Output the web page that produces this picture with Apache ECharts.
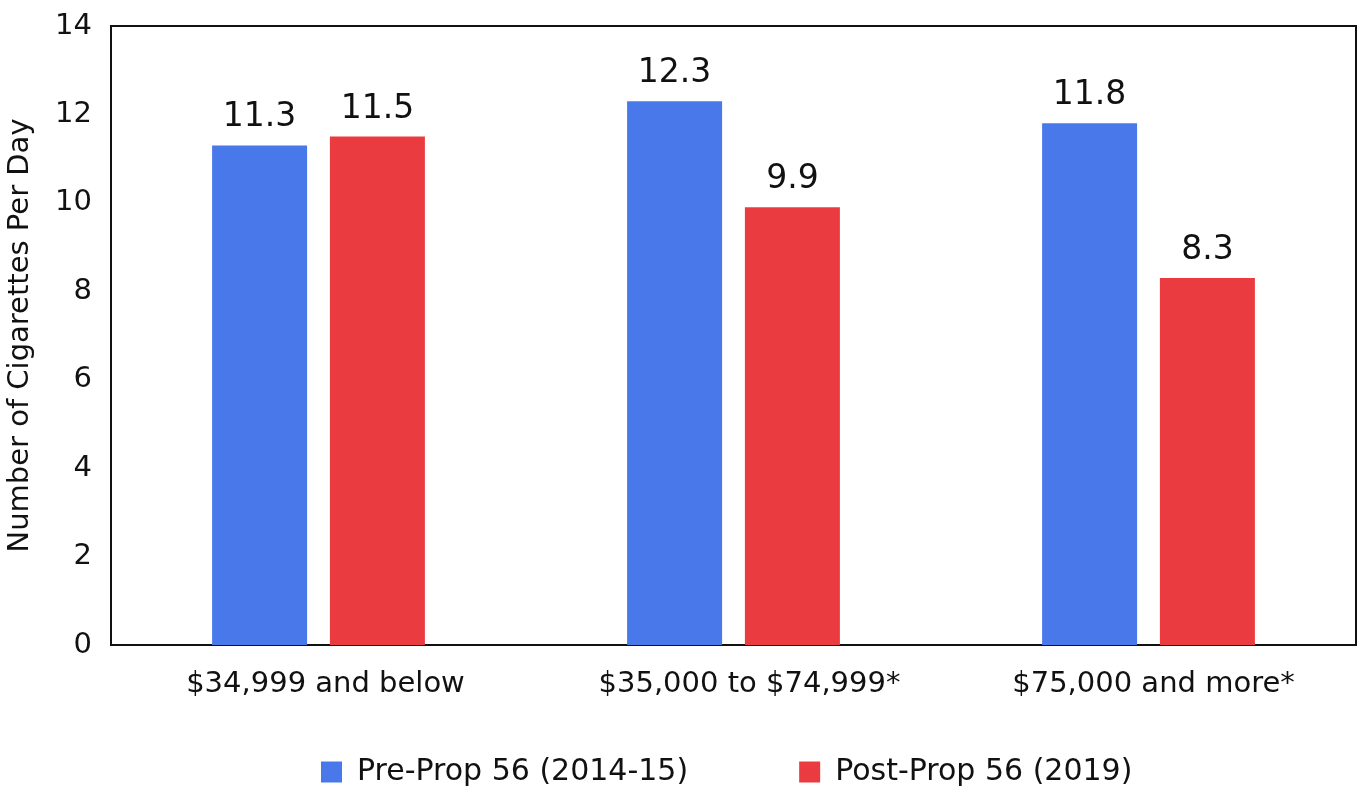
<!DOCTYPE html>
<html>
<head>
<meta charset="utf-8">
<script src="https://cdn.jsdelivr.net/npm/echarts@6/dist/echarts.min.js"></script>
<style>
  html, body { margin: 0; padding: 0; background: #fff; }
  #chart { width: 1358px; height: 787px; }
</style>
</head>
<body>
<div id="chart"></div>
<script>
// Income groups and average cigarettes smoked per day, before and after Prop 56
const categories = ['$34,999 and below', '$35,000 to $74,999*', '$75,000 and more*'];
const preProp = [11.3, 12.3, 11.8];
const postProp = [11.5, 9.9, 8.3];
const seriesNames = ['Pre-Prop 56 (2014-15)', 'Post-Prop 56 (2019)'];
const yTicks = { min: 0, max: 14, interval: 2 };

const FONT = '"DejaVu Sans", "Noto Sans", sans-serif';
const INK = '#111';
// small rightward nudge (px) of each category label under its bar pair
const categoryLabelNudge = [7, 16, 5];

const chart = echarts.init(document.getElementById('chart'));

const labelStyle = {
  show: true,
  position: 'top',
  distance: 11,
  color: INK,
  fontSize: 33,
  fontFamily: FONT,
  formatter: p => p.value.toFixed(1)
};

const categoryItems = categories.map((c, i) => ({
  value: c,
  textStyle: { padding: [0, 0, 0, categoryLabelNudge[i] * 2] }
}));

chart.setOption({
  animation: false,
  textStyle: { fontFamily: FONT },
  grid: {
    left: 111, right: 2, top: 26, bottom: 142,
    outerBoundsMode: 'none',
    containLabel: false,
    show: true, borderColor: INK, borderWidth: 2, backgroundColor: 'transparent'
  },
  legend: {
    data: seriesNames,
    left: 316, top: 752,
    itemWidth: 21, itemHeight: 21, itemGap: 111,
    icon: 'rect',
    textStyle: { fontSize: 30, color: INK, fontFamily: FONT, padding: [0, 0, 0, 10] }
  },
  xAxis: {
    type: 'category',
    data: categoryItems,
    axisLine: { show: true, lineStyle: { color: INK, width: 2 } },
    axisTick: { show: false },
    axisLabel: { fontSize: 29, color: INK, margin: 25, fontFamily: FONT }
  },
  yAxis: {
    type: 'value',
    min: yTicks.min, max: yTicks.max, interval: yTicks.interval,
    name: 'Number of Cigarettes Per Day',
    nameLocation: 'middle',
    nameGap: 76,
    nameTextStyle: { fontSize: 29, color: INK, fontFamily: FONT },
    axisLine: { show: true, lineStyle: { color: INK, width: 2 } },
    axisTick: { show: false },
    splitLine: { show: false },
    axisLabel: { fontSize: 29, color: INK, margin: 19, fontFamily: FONT }
  },
  series: [
    {
      name: seriesNames[0], type: 'bar', data: preProp,
      barWidth: 95, barGap: '24%',
      itemStyle: { color: '#4878EA' },
      label: labelStyle
    },
    {
      name: seriesNames[1], type: 'bar', data: postProp,
      barWidth: 95,
      itemStyle: { color: '#EA3C40' },
      label: labelStyle
    }
  ]
});
</script>
</body>
</html>
